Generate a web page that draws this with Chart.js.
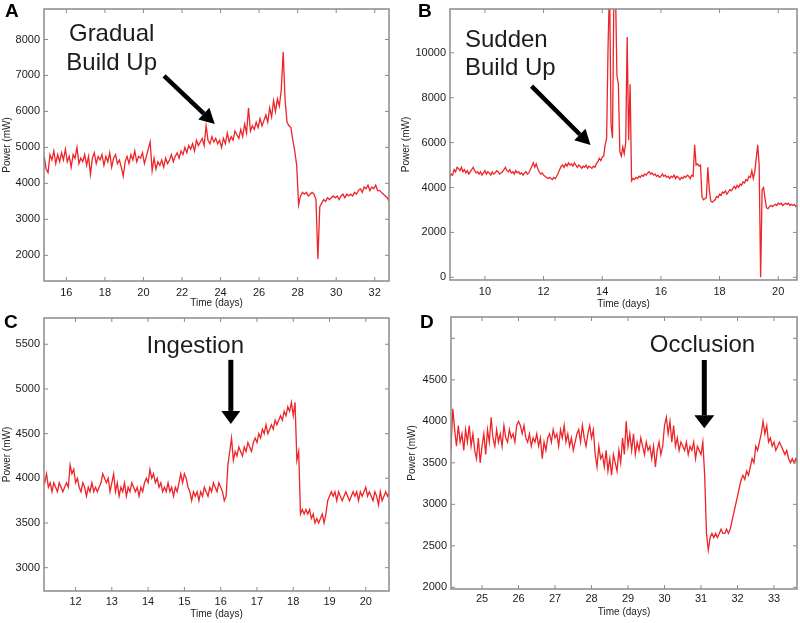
<!DOCTYPE html>
<html>
<head>
<meta charset="utf-8">
<title>Power traces</title>
<script src="https://cdn.jsdelivr.net/npm/chart.js@4.4.0/dist/chart.umd.min.js"></script>
<style>
  html, body { margin: 0; padding: 0; background: #fff; }
  #wrap { position: relative; width: 800px; height: 623px; overflow: hidden; }
  canvas { position: absolute; }
</style>
</head>
<body>
<div id="wrap">
  <canvas id="chartA" width="400" height="311" style="left:0;top:0"></canvas>
  <canvas id="chartB" width="400" height="311" style="left:400px;top:0"></canvas>
  <canvas id="chartC" width="400" height="312" style="left:0;top:311px"></canvas>
  <canvas id="chartD" width="400" height="312" style="left:400px;top:311px"></canvas>
</div>
<script>
// ==========================================
// 1. DATA (power in mW, sampled every "step" days from "start")
// ==========================================

// Panel A - gradual build up
const startA = 14.85, stepA = 0.1;
const powerA = [
  4750, 4400, 4300, 4800, 4650, 4900, 4550, 4800, 4600, 4850,
  4650, 4950, 4600, 4750, 4450, 4800, 4700, 5000, 4550, 4700,
  4600, 4800, 4500, 4750, 4250, 4700, 4850, 4550, 4750, 4650,
  4800, 4500, 4750, 4600, 4850, 4450, 4700, 4800, 4550, 4650,
  4450, 4200, 4600, 4750, 4550, 4800, 4650, 4900, 4600, 4750,
  4700, 4850, 4550, 4750, 4950, 5150, 4350, 4700, 4400, 4600,
  4500, 4650, 4450, 4700, 4550, 4650, 4800, 4600, 4750, 4850,
  4700, 4900, 4800, 5000, 4850, 5050, 4950, 5100, 4900, 5200,
  5050, 5150, 5250, 5050, 5600, 5200, 5100, 5300, 5150, 5250,
  5100, 5200, 5000, 5250, 5100, 5400, 5150, 5300, 5200, 5450,
  5350, 5250, 5500, 5300, 5650, 5400, 6100, 5450, 5600, 5500,
  5700, 5550, 5800, 5600, 5750, 5900, 5700, 6100, 5850, 6300,
  6000, 6350, 6150, 6600, 7650, 6300, 5700, 5600, 5550, 5200,
  4900, 4500, 3400, 3650, 3750, 3700, 3750, 3650, 3700, 3750,
  3700, 3550, 1900, 3350, 3450, 3550, 3500, 3600, 3550, 3600,
  3650, 3600, 3650, 3550, 3650, 3700, 3600, 3700, 3650, 3700,
  3650, 3750, 3700, 3800, 3850, 3750, 3900, 3850, 3950, 3800,
  3900, 3850, 3950, 3800, 3800, 3750, 3700, 3650, 3600, 3500
];

// Panel B - sudden build up
const startB = 8.8, stepB = 0.05;
const powerB = [
  4450, 4600, 4550, 4800, 4700, 4900, 4850, 4750, 4900, 4700, 4800, 4650, 4750, 4600, 4700, 4800, 4900, 4750, 4650, 4700,
  4600, 4700, 4550, 4650, 4750, 4600, 4700, 4650, 4550, 4700, 4600, 4650, 4750, 4700, 4600, 4650, 4700, 4800, 4900, 4750,
  4700, 4800, 4650, 4700, 4600, 4750, 4650, 4700, 4600, 4650, 4550, 4650, 4700, 4600, 4650, 4800, 4950, 5100, 4900, 5050,
  4850, 4700, 4600, 4650, 4550, 4500, 4450, 4400, 4450, 4400, 4350, 4450, 4400, 4500, 4650, 4800, 4950, 5000, 4900, 5050,
  4950, 5100, 5000, 5050, 4950, 5100, 5000, 4900, 5000, 4950, 4850, 4950, 4900, 5000, 4850, 4950, 4900, 4850, 4950, 4900,
  5050, 5150, 5300, 5200, 5350, 5400, 5900, 6200, 10400, 13000, 6800, 6200, 13000, 13000, 9000, 8600, 5600, 5400, 5800, 5500,
  6000, 10700, 6100, 8600, 4300, 4400, 4350, 4450, 4400, 4500, 4450, 4550, 4500, 4600, 4550, 4650, 4700, 4600, 4650, 4550,
  4600, 4500, 4550, 4450, 4500, 4600, 4500, 4550, 4450, 4500, 4400, 4500, 4450, 4550, 4400, 4500, 4450, 4350, 4450, 4400,
  4500, 4450, 4550, 4500, 4400, 4550, 4500, 5900, 5000, 5050, 4950, 5000, 3600, 3450, 3500, 3550, 4900, 3900, 3400, 3350,
  3400, 3450, 3600, 3550, 3700, 3650, 3800, 3750, 3850, 3700, 3800, 3900, 3850, 3950, 4050, 3950, 4100, 4000, 4150, 4100,
  4250, 4200, 4350, 4300, 4500, 4450, 4750, 4400, 4700, 5300, 5900, 5000, 0, 3900, 4000, 3500, 3100, 3050, 3150, 3200,
  3150, 3200, 3250, 3200, 3300, 3250, 3300, 3200, 3250, 3300, 3250, 3300, 3200, 3250, 3200, 3250, 3150, 3200
];

// Panel C - ingestion
const startC = 11.1, stepC = 0.05;
const powerC = [
  4000, 3950, 4050, 3900, 3950, 3850, 3950, 3900, 3850, 3950, 3900, 3850, 3900, 3950, 3900, 4150, 4050, 4100, 3950, 4000,
  3900, 3850, 3950, 3900, 3800, 3900, 3850, 3950, 3850, 3900, 3850, 3900, 3950, 4050, 4000, 3950, 4000, 3850, 3950, 4050,
  3850, 3950, 3800, 3900, 3850, 3950, 3800, 3900, 3850, 3950, 3900, 3850, 3900, 3800, 3900, 3850, 3950, 4000, 3950, 4100,
  4000, 4050, 3950, 4000, 3900, 3950, 3850, 3900, 3850, 3950, 3850, 3900, 3800, 3900, 3850, 3950, 4050, 3950, 4050, 4000,
  3900, 3850, 3750, 3850, 3800, 3850, 3750, 3850, 3800, 3900, 3850, 3800, 3900, 3850, 3950, 3900, 3850, 3950, 3900, 3850,
  3750, 3800, 4150, 4300, 4450, 4200, 4300, 4250, 4350, 4300, 4250, 4350, 4300, 4400, 4350, 4300, 4400, 4450, 4400, 4500,
  4450, 4550, 4500, 4600, 4500, 4550, 4600, 4550, 4650, 4600, 4650, 4700, 4650, 4750, 4700, 4800, 4750, 4850, 4700, 4850,
  4200, 4300, 3600, 3650, 3600, 3650, 3600, 3650, 3550, 3600, 3500, 3550, 3500, 3550, 3600, 3500, 3600, 3750, 3800, 3850,
  3800, 3850, 3750, 3850, 3800, 3750, 3800, 3850, 3800, 3750, 3800, 3850, 3800, 3850, 3750, 3850, 3800, 3850, 3900, 3800,
  3850, 3800, 3750, 3850, 3800, 3700, 3850, 3750, 3800, 3850, 3800, 3850, 3800
];

// Panel D - occlusion
const startD = 24.1, stepD = 0.05;
const powerD = [
  3800, 3700, 4150, 3900, 3700, 3950, 3750, 3850, 3650, 3900, 3750, 3950, 3700, 3850, 3650, 3550, 3800, 3500, 3700, 3850,
  3600, 3900, 3750, 4050, 3800, 3700, 3900, 3750, 3850, 3700, 3950, 3800, 3750, 3900, 3800, 3850, 3750, 3950, 4000, 3950,
  3850, 3950, 3800, 3750, 3850, 3700, 3800, 3750, 3850, 3700, 3800, 3550, 3750, 3650, 3800, 3850, 3750, 3900, 3800, 3850,
  3700, 3900, 3800, 3950, 3750, 3850, 3700, 3800, 3650, 3750, 3850, 3900, 3750, 3950, 3800, 3700, 3850, 3950, 3800, 3900,
  3600, 3450, 3700, 3550, 3600, 3450, 3650, 3400, 3550, 3350, 3600, 3500, 3400, 3650, 3500, 3800, 3600, 4000, 3700, 3850,
  3650, 3850, 3600, 3750, 3650, 3800, 3700, 3600, 3750, 3650, 3700, 3550, 3700, 3450, 3650, 3750, 3600, 3700, 3950, 4050,
  3850, 4000, 3750, 3950, 3700, 3800, 3650, 3750, 3700, 3650, 3750, 3600, 3700, 3650, 3750, 3550, 3700, 3650, 3600, 3750,
  3350, 2650, 2450, 2600, 2650, 2600, 2650, 2600, 2650, 2700, 2650, 2650, 2700, 2650, 2700, 2800, 2900, 3000, 3100, 3200,
  3300, 3350, 3300, 3400, 3350, 3450, 3550, 3500, 3700, 3650, 3750, 3850, 4000, 3850, 3950, 3750, 3800, 3700, 3750, 3650,
  3700, 3750, 3700, 3650, 3600, 3650, 3550, 3500, 3550, 3500, 3550, 3500
];

// Tick labels
const xTicksA = [16, 18, 20, 22, 24, 26, 28, 30, 32];
const yTicksA = [2000, 3000, 4000, 5000, 6000, 7000, 8000];
const xTicksB = [10, 12, 14, 16, 18, 20];
const yTicksB = [0, 2000, 4000, 6000, 8000, 10000];
const xTicksC = [12, 13, 14, 15, 16, 17, 18, 19, 20];
const yTicksC = [3000, 3500, 4000, 4500, 5000, 5500];
const xTicksD = [25, 26, 27, 28, 29, 30, 31, 32, 33];
const yTicksD = [2000, 2500, 3000, 3500, 4000, 4500, 5000];
const yUnlabeledD = [5000]; // tick mark drawn, label cut off in the original

// ==========================================
// 2. HELPERS
// ==========================================

const RED = 'rgb(238, 36, 40)';
const FONT = '"Liberation Sans", Arial, sans-serif';

function toPoints(start, step, values) {
    return values.map((v, i) => ({ x: +(start + i * step).toFixed(3), y: v }));
}

// annotation text and arrows, given in data units of each panel
const panelDecor = {
    chartA: { letter: 'A', letterX: 5, lines: ['Gradual', 'Build Up'], align: 'center',
              textAt: [18.35, 7967], lineGap: 29,
              arrowFrom: [21.07, 6986], arrowTo: [23.70, 5653], shaft: 4.5, headLen: 15, headW: 16 },
    chartB: { letter: 'B', letterX: 18, lines: ['Sudden', 'Build Up'], align: 'left',
              textAt: [9.32, 10263], lineGap: 28,
              arrowFrom: [11.59, 8514], arrowTo: [13.60, 5888], shaft: 4.5, headLen: 15, headW: 16 },
    chartC: { letter: 'C', letterX: 4, lines: ['Ingestion'], align: 'center',
              textAt: [15.30, 5401], lineGap: 0,
              arrowFrom: [16.28, 5326], arrowTo: [16.28, 4609], shaft: 5, headLen: 13, headW: 19 },
    chartD: { letter: 'D', letterX: 20, lines: ['Occlusion'], align: 'center',
              textAt: [31.04, 4839], lineGap: 0,
              arrowFrom: [31.09, 4739], arrowTo: [31.09, 3916], shaft: 5, headLen: 13, headW: 20 }
};

function drawArrow(ctx, x0, y0, x1, y1, shaft, headLen, headW) {
    const ang = Math.atan2(y1 - y0, x1 - x0);
    const bx = x1 - headLen * Math.cos(ang);
    const by = y1 - headLen * Math.sin(ang);
    ctx.strokeStyle = '#000';
    ctx.lineWidth = shaft;
    ctx.beginPath();
    ctx.moveTo(x0, y0);
    ctx.lineTo(bx, by);
    ctx.stroke();
    ctx.fillStyle = '#000';
    ctx.beginPath();
    ctx.moveTo(x1, y1);
    ctx.lineTo(bx + headW / 2 * Math.sin(ang), by - headW / 2 * Math.cos(ang));
    ctx.lineTo(bx - headW / 2 * Math.sin(ang), by + headW / 2 * Math.cos(ang));
    ctx.closePath();
    ctx.fill();
}

// Box around the plot, inward tick marks, panel letter and annotation
const decorPlugin = {
    id: 'panelDecor',
    afterDraw(chart) {
        const d = panelDecor[chart.canvas.id];
        const { ctx, chartArea: a } = chart;
        const x = chart.scales.x, y = chart.scales.y;
        ctx.save();

        ctx.strokeStyle = '#8a8a8a';
        ctx.lineWidth = 1.5;
        ctx.strokeRect(a.left, a.top, a.right - a.left, a.bottom - a.top);

        ctx.lineWidth = 1;
        ctx.beginPath();
        x.ticks.forEach(t => {
            const px = x.getPixelForValue(t.value);
            ctx.moveTo(px, a.bottom); ctx.lineTo(px, a.bottom - 4);
            ctx.moveTo(px, a.top); ctx.lineTo(px, a.top + 4);
        });
        y.ticks.forEach(t => {
            const py = y.getPixelForValue(t.value);
            ctx.moveTo(a.left, py); ctx.lineTo(a.left + 4, py);
            ctx.moveTo(a.right, py); ctx.lineTo(a.right - 4, py);
        });
        ctx.stroke();

        ctx.fillStyle = '#000';
        ctx.font = 'bold 19px ' + FONT;
        ctx.textAlign = 'left';
        ctx.textBaseline = 'alphabetic';
        ctx.fillText(d.letter, d.letterX, 17);

        ctx.fillStyle = '#1c1c1c';
        ctx.font = '24px ' + FONT;
        ctx.textAlign = d.align;
        const tx = x.getPixelForValue(d.textAt[0]);
        const ty = y.getPixelForValue(d.textAt[1]);
        d.lines.forEach((line, i) => ctx.fillText(line, tx, ty + i * d.lineGap));

        drawArrow(ctx,
            x.getPixelForValue(d.arrowFrom[0]), y.getPixelForValue(d.arrowFrom[1]),
            x.getPixelForValue(d.arrowTo[0]), y.getPixelForValue(d.arrowTo[1]),
            d.shaft, d.headLen, d.headW);

        ctx.restore();
    }
};

// ==========================================
// 3. BUILD ONE PANEL
// ==========================================

function makePanel(id, p) {
    return new Chart(document.getElementById(id), {
        type: 'line',
        data: {
            datasets: [{
                data: p.points,
                borderColor: RED,
                borderWidth: 1.3,
                pointRadius: 0,
                tension: 0
            }]
        },
        options: {
            responsive: false,
            animation: false,
            devicePixelRatio: 1,
            layout: { padding: p.padding },
            plugins: { legend: { display: false }, tooltip: { enabled: false } },
            scales: {
                x: {
                    type: 'linear',
                    min: p.xMin, max: p.xMax,
                    grid: { display: false, drawTicks: false },
                    border: { display: false },
                    afterBuildTicks: s => { s.ticks = p.xTicks.map(v => ({ value: v })); },
                    afterFit: s => { s.height = p.xHeight; s.paddingLeft = 0; s.paddingRight = 0; },
                    ticks: { padding: p.xTickPad, autoSkip: false, maxRotation: 0, color: '#1a1a1a',
                             font: { family: FONT, size: 11 }, callback: v => String(v) },
                    title: { display: true, text: 'Time (days)', color: '#222',
                             font: { family: FONT, size: 10 }, padding: { top: 0, bottom: p.xTitlePad } }
                },
                y: {
                    type: 'linear',
                    min: p.yMin, max: p.yMax,
                    grid: { display: false, drawTicks: false },
                    border: { display: false },
                    afterBuildTicks: s => { s.ticks = p.yTicks.map(v => ({ value: v })); },
                    afterFit: s => { s.width = p.yWidth; s.paddingTop = 0; s.paddingBottom = 0; },
                    ticks: { padding: 4, autoSkip: false, color: '#1a1a1a',
                             font: { family: FONT, size: 11 },
                             callback: v => (p.yHidden || []).includes(v) ? '' : String(v) },
                    title: { display: true, text: 'Power (mW)', color: '#222',
                             font: { family: FONT, size: 10 }, padding: { top: p.yTitlePad, bottom: 0 } }
                }
            }
        },
        plugins: [decorPlugin]
    });
}

// ==========================================
// 4. INITIALIZATION
// ==========================================

makePanel('chartA', {
    points: toPoints(startA, stepA, powerA),
    xMin: 14.84, xMax: 32.74, yMin: 1286, yMax: 8847,
    xTicks: xTicksA, yTicks: yTicksA,
    padding: { left: 0, top: 9, right: 11, bottom: 0 },
    yWidth: 44, xHeight: 30, xTickPad: 5, xTitlePad: 2, yTitlePad: 1
});

makePanel('chartB', {
    points: toPoints(startB, stepB, powerB),
    xMin: 8.81, xMax: 20.64, yMin: -120, yMax: 11950,
    xTicks: xTicksB, yTicks: yTicksB,
    padding: { left: 0, top: 9, right: 3, bottom: 0 },
    yWidth: 50, xHeight: 31, xTickPad: 5, xTitlePad: 1, yTitlePad: 0
});

makePanel('chartC', {
    points: toPoints(startC, stepC, powerC),
    xMin: 11.13, xMax: 20.64, yMin: 2739, yMax: 5794,
    xTicks: xTicksC, yTicks: yTicksC,
    padding: { left: 0, top: 7, right: 11, bottom: 0 },
    yWidth: 44, xHeight: 32, xTickPad: 4, xTitlePad: 3, yTitlePad: 1
});

makePanel('chartD', {
    points: toPoints(startD, stepD, powerD),
    xMin: 24.15, xMax: 33.63, yMin: 1980, yMax: 5257,
    xTicks: xTicksD, yTicks: yTicksD, yHidden: yUnlabeledD,
    padding: { left: 0, top: 6, right: 3, bottom: 0 },
    yWidth: 51, xHeight: 34, xTickPad: 3, xTitlePad: 5, yTitlePad: 6
});
</script>
</body>
</html>
